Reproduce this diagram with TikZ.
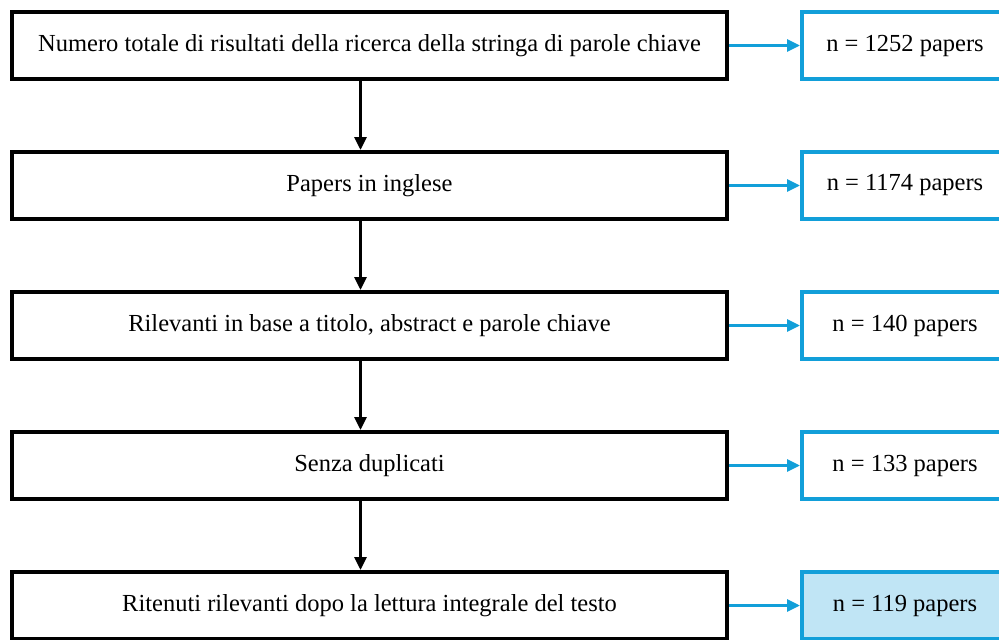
\documentclass[tikz,border=0pt]{standalone}
\usepackage{fontspec}
\setmainfont{Liberation Serif}
\usetikzlibrary{arrows.meta,positioning}
\definecolor{prsblue}{HTML}{129FD9}
\definecolor{prsfill}{HTML}{C0E5F5}

\begin{document}
\begin{tikzpicture}[
    node distance=69pt and 71pt,
    stepbox/.style={draw=black, line width=4pt,
                minimum width=715pt, minimum height=67pt, inner sep=0pt,
                align=center, font=\rmfamily\fontsize{24.5}{29}\selectfont},
    countbox/.style={draw=prsblue, line width=4pt,
                minimum width=206pt, minimum height=67pt, inner sep=0pt,
                align=center, font=\rmfamily\fontsize{24.5}{29}\selectfont},
    down/.style={-{Triangle[length=13pt,width=12pt]}, line width=3pt},
    side/.style={-{Triangle[length=13pt,width=12pt]}, line width=3pt, color=prsblue}
  ]
    \useasboundingbox (0,0) rectangle (999pt,-640pt);
    \node[stepbox, anchor=north west] (s1) at (10pt,-10pt)
        {Numero totale di risultati della ricerca della stringa di parole chiave};
    \node[stepbox, below=of s1] (s2) {Papers in inglese};
    \node[stepbox, below=of s2] (s3) {Rilevanti in base a titolo, abstract e parole chiave};
    \node[stepbox, below=of s3] (s4) {Senza duplicati};
    \node[stepbox, below=of s4] (s5) {Ritenuti rilevanti dopo la lettura integrale del testo};
    \node[countbox, right=of s1] (n1) {n = 1252 papers};
    \node[countbox, right=of s2] (n2) {n = 1174 papers};
    \node[countbox, right=of s3] (n3) {n = 140 papers};
    \node[countbox, right=of s4] (n4) {n = 133 papers};
    \node[countbox, right=of s5, fill=prsfill] (n5) {n = 119 papers};
    \draw[down] ([xshift=-9pt]s1.south) -- ([xshift=-9pt]s2.north);
    \draw[down] ([xshift=-9pt]s2.south) -- ([xshift=-9pt]s3.north);
    \draw[down] ([xshift=-9pt]s3.south) -- ([xshift=-9pt]s4.north);
    \draw[down] ([xshift=-9pt]s4.south) -- ([xshift=-9pt]s5.north);
    \draw[side] (s1) -- (n1);
    \draw[side] (s2) -- (n2);
    \draw[side] (s3) -- (n3);
    \draw[side] (s4) -- (n4);
    \draw[side] (s5) -- (n5);
  \end{tikzpicture}
\end{document}
